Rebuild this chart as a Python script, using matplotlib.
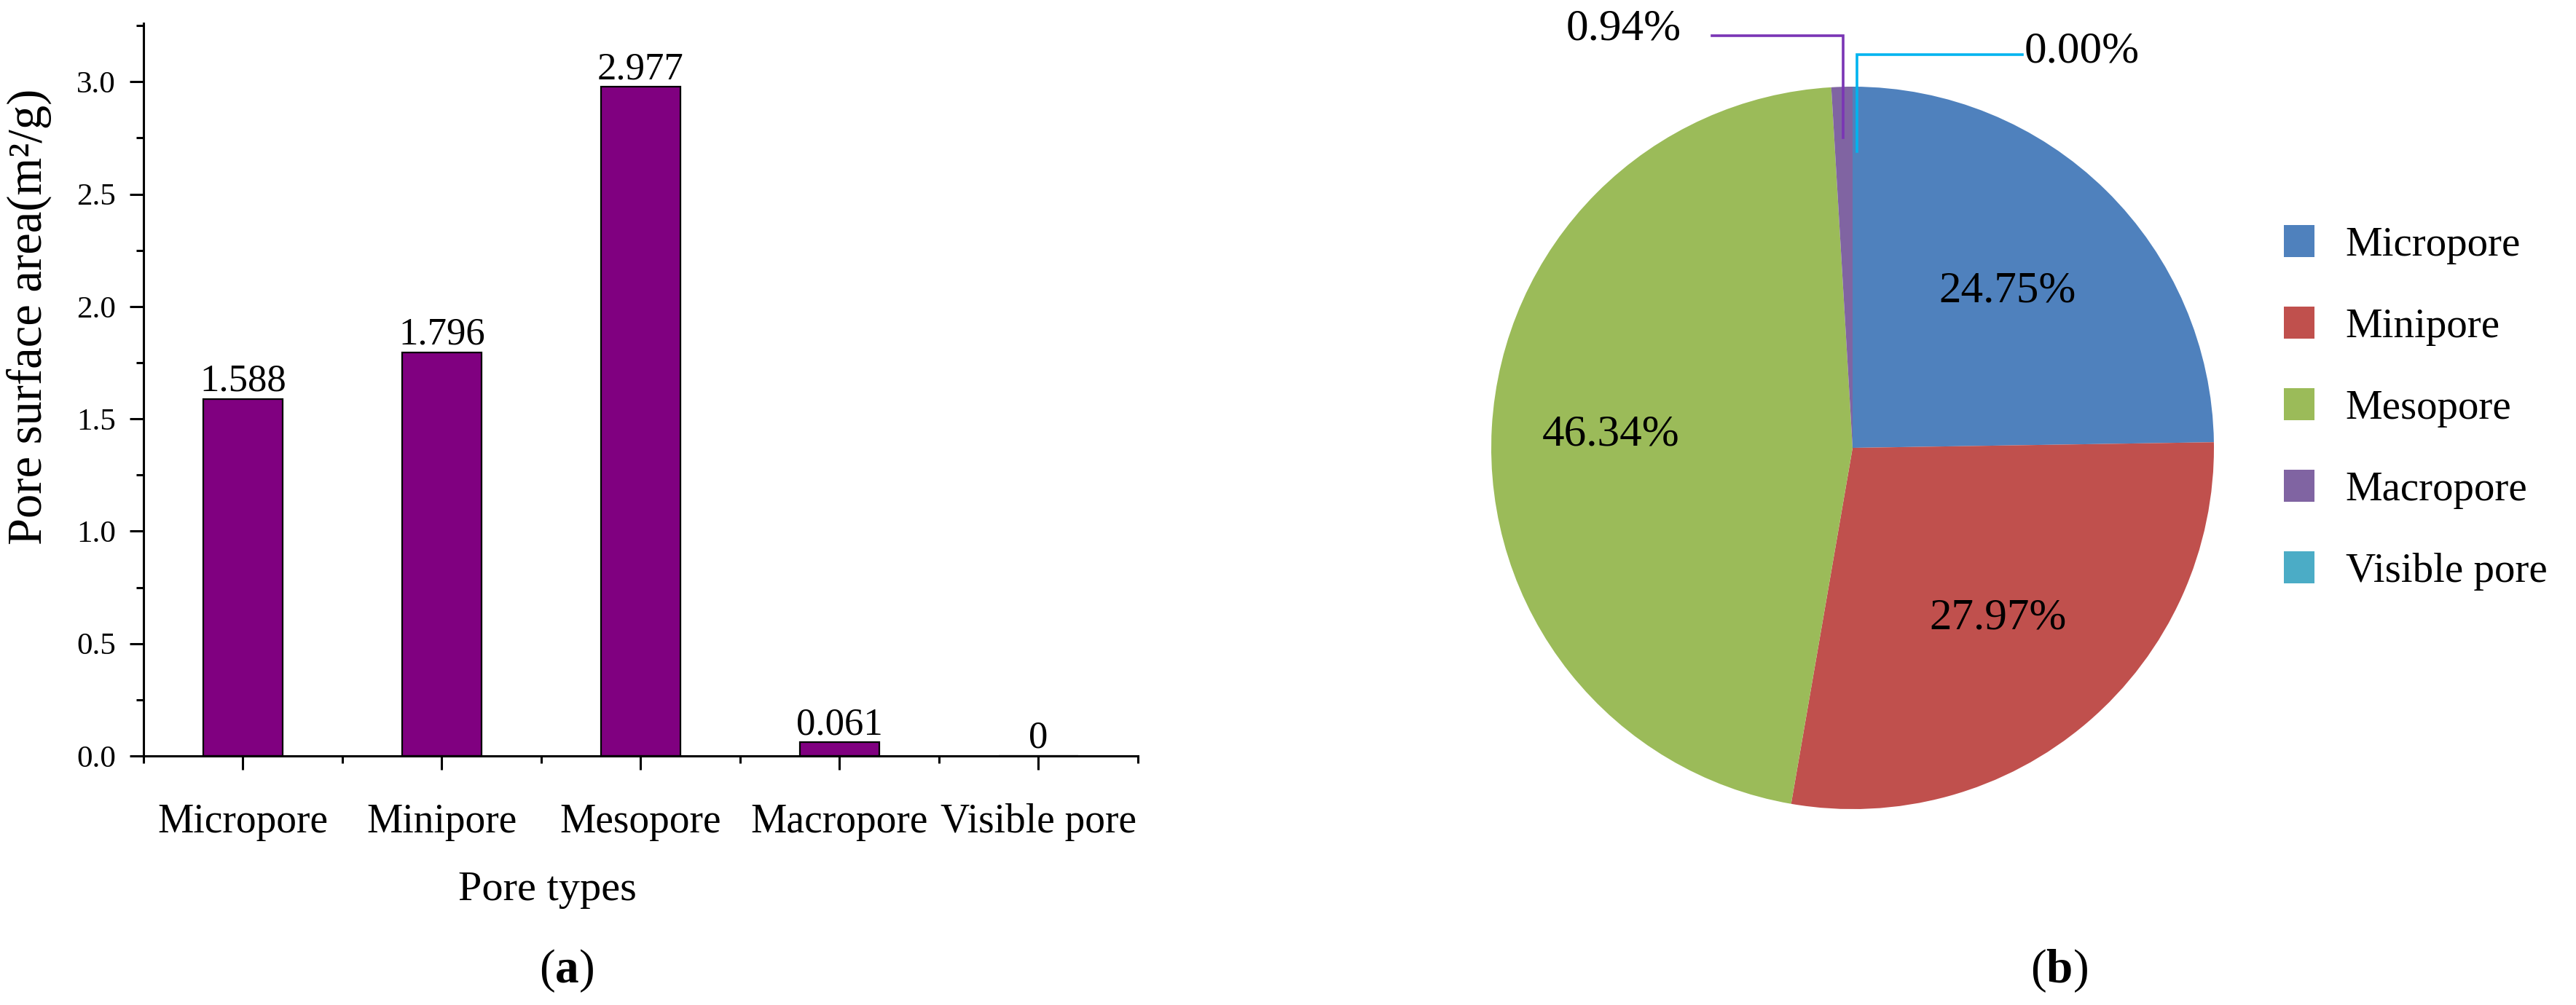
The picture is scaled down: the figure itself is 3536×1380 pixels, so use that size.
import numpy as np
import matplotlib
matplotlib.use("Agg")
import matplotlib.pyplot as plt
from matplotlib.ticker import FormatStrFormatter, MultipleLocator, FixedLocator

plt.rcParams['font.family'] = ['Liberation Serif', 'DejaVu Serif']
plt.rcParams['mathtext.fontset'] = 'custom'
plt.rcParams['mathtext.rm'] = 'Liberation Serif'
plt.rcParams['mathtext.bf'] = 'Liberation Serif:bold'

# ---- data ----
categories = ["Micropore", "Minipore", "Mesopore", "Macropore", "Visible pore"]
surface_area = [1.588, 1.796, 2.977, 0.061, 0]
value_labels = ["1.588", "1.796", "2.977", "0.061", "0"]
pie_pct = [24.75, 27.97, 46.34, 0.94, 0.00]
pie_colors = ["#4F81BD", "#C0504D", "#9BBB59", "#8064A2", "#4BACC6"]
yticks = [0.0, 0.5, 1.0, 1.5, 2.0, 2.5, 3.0]

W, H = 3537, 1380
fig = plt.figure(figsize=(W / 100, H / 100), dpi=100)
fig.patch.set_facecolor("white")

# ---- (a) bar chart ----
ax = fig.add_axes([197 / W, 1 - 1038 / H, (1562 - 197) / W, (1038 - 32) / H])
x = np.arange(len(categories))
bars = ax.bar(x, surface_area, width=0.4, color="#800080", edgecolor="black", linewidth=1.6)
ax.set_xlim(-0.5, 4.5)
ax.set_ylim(0, 3.26)
for s in ("top", "right"):
    ax.spines[s].set_visible(False)
for s in ("left", "bottom"):
    ax.spines[s].set_linewidth(2.2)
ax.set_yticks(yticks)
ax.yaxis.set_major_formatter(FormatStrFormatter("%.1f"))
ax.yaxis.set_minor_locator(MultipleLocator(0.25))
ax.set_xticks(x)
ax.set_xticklabels(categories)
ax.xaxis.set_minor_locator(FixedLocator(np.arange(-0.5, 4.6, 1.0)))
ax.tick_params(axis="both", which="major", direction="out", length=13.5, width=2.2, color="black")
ax.tick_params(axis="both", which="minor", direction="out", length=7, width=2.2, color="black")
ax.tick_params(axis="y", which="major", labelsize=31, pad=14)
ax.tick_params(axis="x", which="major", labelsize=40, pad=33)
for xi, v, lab in zip(x, surface_area, value_labels):
    ax.annotate(lab, (xi, v), xytext=(0, 8), textcoords="offset points",
                ha="center", va="baseline", fontsize=38)

fig.text(751 / W, 1 - 1222 / H, "Pore types", ha="center", va="center", fontsize=42)
fig.text(40 / W, 1 - 435 / H, "Pore surface area(m²/g)", rotation=90,
         ha="center", va="center", fontsize=48)
fig.text(778 / W, 1 - 1333 / H, r"($\mathbf{a}$)", ha="center", va="center", fontsize=47)
fig.text(2826 / W, 1 - 1333 / H, r"($\mathbf{b}$)", ha="center", va="center", fontsize=47)

# ---- (b) pie chart ----
pax = fig.add_axes([2047 / W, 1 - 1111 / H, 992 / W, 992 / H])
wedges, _ = pax.pie(pie_pct, colors=pie_colors, startangle=90, counterclock=False,
                    wedgeprops=dict(linewidth=0))
pax.set_xlim(-1, 1)
pax.set_ylim(-1, 1)
pax.set_aspect("equal")

label_r = [0.61, 0.62, 0.67]
for i, (w, v) in enumerate(zip(wedges, pie_pct)):
    mid = np.deg2rad((w.theta1 + w.theta2) / 2)
    lab = f"{v:.2f}%"
    if v > 5:
        r = label_r[i]
        pax.text(r * np.cos(mid), r * np.sin(mid), lab, ha="center", va="center", fontsize=44)
    elif i == 3:
        ex, ey = 0.86 * np.cos(mid), 0.86 * np.sin(mid)
        pax.plot([ex, ex, -0.39], [ey, 1.141, 1.141], color="#7a35b5", lw=2.6,
                 clip_on=False, solid_joinstyle="miter")
        pax.text(-0.475, 1.16, lab, ha="right", va="center", fontsize=44)
    else:
        ex, ey = 0.82 * np.cos(mid) + 0.012, 0.82 * np.sin(mid)
        pax.plot([ex, ex, 0.47], [ey, 1.089, 1.089], color="#00b4ef", lw=2.6,
                 clip_on=False, solid_joinstyle="miter")
        pax.text(0.475, 1.097, lab, ha="left", va="center", fontsize=44)

fig.legend(handles=wedges, labels=categories, loc="upper left",
           bbox_to_anchor=(3135 / W, 1 - 309 / H), frameon=False, fontsize=41,
           handlelength=0.74, handleheight=0.82, handletextpad=0.75,
           labelspacing=1.02, borderpad=0, borderaxespad=0)

fig.savefig("out.png", dpi=100, facecolor="white")
